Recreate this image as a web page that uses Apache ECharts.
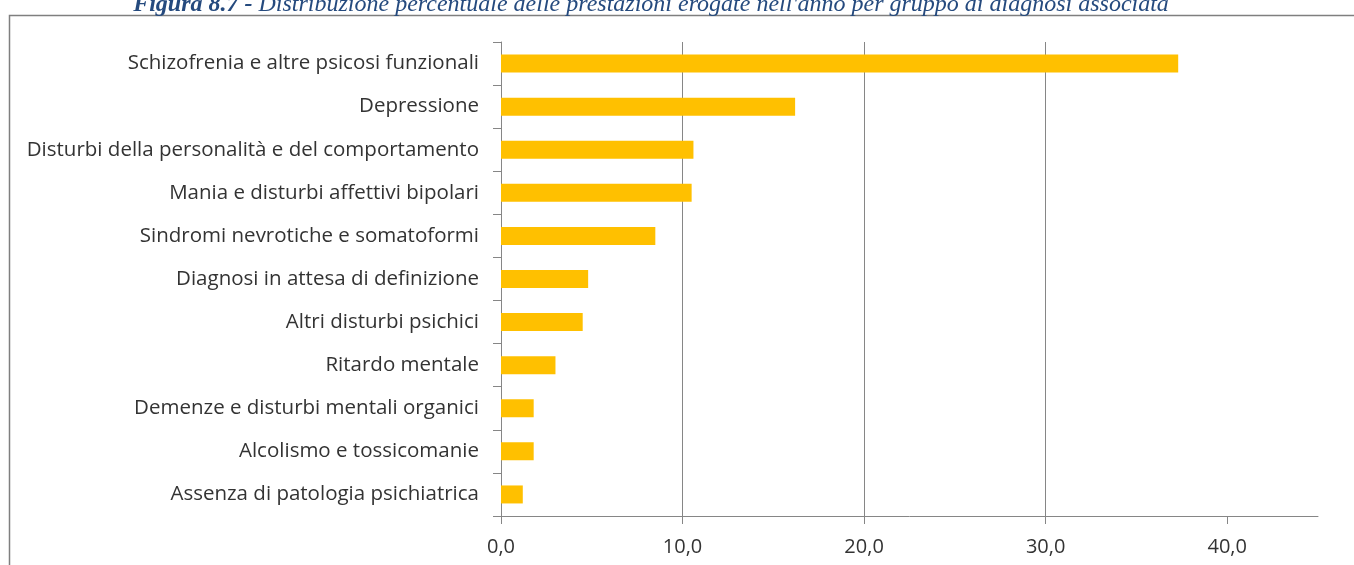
<!DOCTYPE html>
<html>
<head>
<meta charset="utf-8">
<script src="https://cdn.jsdelivr.net/npm/echarts@6/dist/echarts.min.js"></script>
<style>
  html, body { margin: 0; padding: 0; background: #ffffff; }
  #chart { width: 1354px; height: 565px; }
</style>
</head>
<body>
<div id="chart"></div>
<script>
const titleText = "Distribuzione percentuale delle prestazioni erogate nell'anno per gruppo di diagnosi associata";
const titlePrefix = "Figura 8.7 - ";
const categories = [
  "Schizofrenia e altre psicosi funzionali",
  "Depressione",
  "Disturbi della personalità e del comportamento",
  "Mania e disturbi affettivi bipolari",
  "Sindromi nevrotiche e somatoformi",
  "Diagnosi in attesa di definizione",
  "Altri disturbi psichici",
  "Ritardo mentale",
  "Demenze e disturbi mentali organici",
  "Alcolismo e tossicomanie",
  "Assenza di patologia psichiatrica"
];
const values = [37.3, 16.2, 10.6, 10.5, 8.5, 4.8, 4.5, 3.0, 1.8, 1.8, 1.2];
const xTicks = [0, 10, 20, 30, 40];

const chart = echarts.init(document.getElementById('chart'), null, { renderer: 'canvas' });
const labelFont = '"Open Sans", Lato, sans-serif';
const axisGray = '#868686';
chart.setOption({
  animation: false,
  backgroundColor: '#ffffff',
  graphic: [
    {
      type: 'rect',
      shape: { x: 9.5, y: 15.5, width: 1400, height: 700 },
      style: { fill: 'none', stroke: '#7f7f7f', lineWidth: 1.5 },
      z: 0
    },
    {
      type: 'text',
      x: 651, y: 5,
      style: {
        rich: {
          b: { fontFamily: '"Liberation Serif", "Times New Roman", serif', fontStyle: 'italic', fontWeight: 'bold', fontSize: 24, fill: '#254A7E' },
          n: { fontFamily: '"Liberation Serif", "Times New Roman", serif', fontStyle: 'italic', fontSize: 24, fill: '#254A7E' }
        },
        text: '{b|' + titlePrefix + '}{n|' + titleText + '}',
        align: 'center',
        verticalAlign: 'middle'
      },
      z: 10
    }
  ],
  grid: { left: 501, top: 42, width: 817, height: 474, containLabel: false },
  xAxis: {
    type: 'value',
    min: 0, max: 45, interval: 10,
    axisLine: { show: true, lineStyle: { color: axisGray, width: 1 } },
    axisTick: { show: true, length: 8, customValues: xTicks, lineStyle: { color: axisGray } },
    axisLabel: {
      customValues: xTicks,
      margin: 21,
      fontFamily: labelFont, fontSize: 20, color: '#333333',
      formatter: v => v.toFixed(1).replace('.', ',')
    },
    splitLine: { show: true, showMaxLine: false, lineStyle: { color: axisGray, width: 1 } }
  },
  yAxis: {
    type: 'category',
    inverse: true,
    data: categories,
    axisLine: { show: true, lineStyle: { color: axisGray, width: 1 } },
    axisTick: { show: true, length: 8, alignWithLabel: false, lineStyle: { color: axisGray } },
    axisLabel: { margin: 22, fontFamily: labelFont, fontSize: 20.5, color: '#333333' }
  },
  series: [{
    type: 'bar',
    data: values,
    barWidth: 18,
    itemStyle: { color: '#FFC000' },
    z: 3
  }]
});
</script>
</body>
</html>
